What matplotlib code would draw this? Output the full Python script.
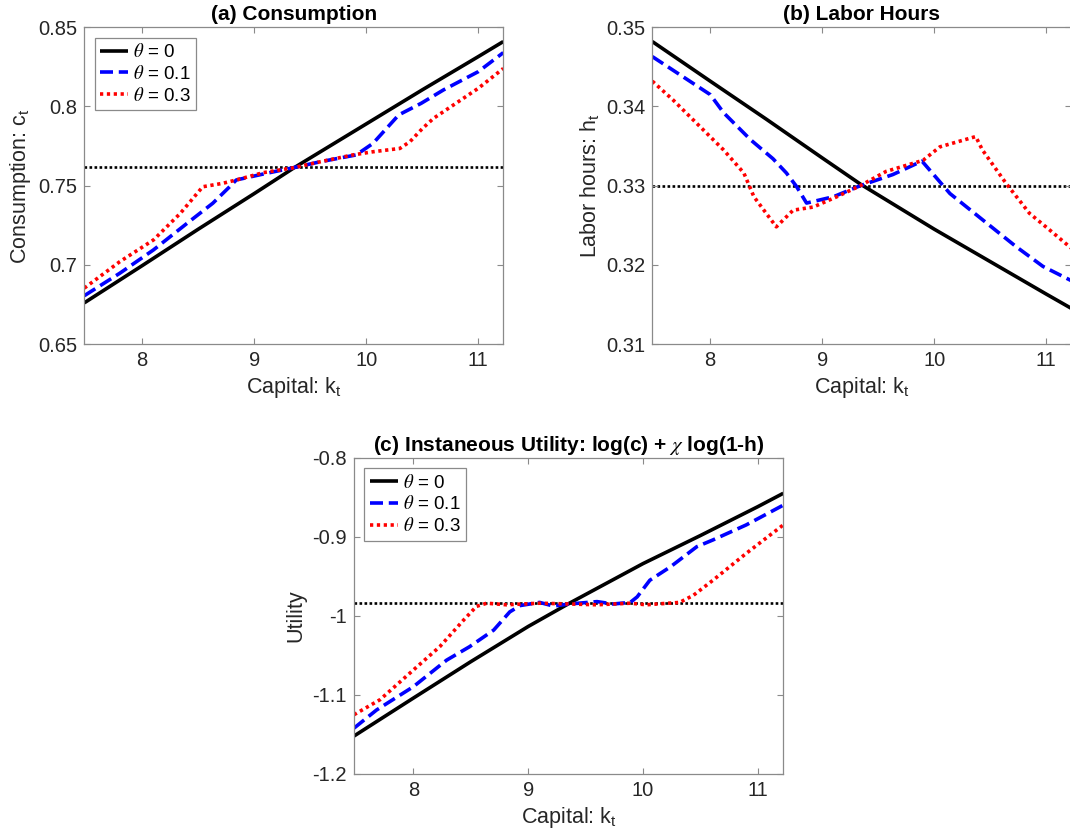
import matplotlib
matplotlib.use("Agg")
import matplotlib.pyplot as plt
from matplotlib.ticker import FixedLocator, FixedFormatter

plt.rcParams['font.family'] = ['Liberation Sans', 'DejaVu Sans']
plt.rcParams['mathtext.fontset'] = 'stix'

# ---------------- data ----------------
K_LIMITS = (7.483, 11.223)
x_ticks = [8, 9, 10, 11]
x_tick_labels = ['8', '9', '10', '11']

theta_labels = [r'$\theta$ = 0', r'$\theta$ = 0.1', r'$\theta$ = 0.3']

# (a) consumption policy
k_c_theta0 = [7.483, 8.0, 8.5, 9.0, 9.36, 10.0, 10.5, 11.0, 11.223]
c_theta0 = [0.676, 0.6995, 0.7225, 0.745, 0.7615, 0.789, 0.8105, 0.8315, 0.841]
k_c_theta01 = [7.483, 7.8, 8.1, 8.4, 8.63, 8.78, 8.84, 9.11, 9.36, 9.59, 9.91,
               10.06, 10.29, 10.49, 10.69, 11.0, 11.223]
c_theta01 = [0.6805, 0.6947, 0.7094, 0.7262, 0.7389, 0.7493, 0.7536, 0.7578, 0.7615,
             0.7651, 0.7694, 0.7767, 0.7947, 0.802, 0.8105, 0.822, 0.834]
k_c_theta03 = [7.483, 7.8, 8.1, 8.34, 8.54, 8.72, 8.84, 9.08, 9.35, 9.59, 9.88,
               10.06, 10.3, 10.39, 10.5, 10.6, 10.8, 11.0, 11.223]
c_theta03 = [0.6853, 0.702, 0.7157, 0.7325, 0.7493, 0.7515, 0.7536, 0.7582, 0.7613,
             0.7651, 0.7694, 0.7714, 0.7735, 0.7778, 0.786, 0.7925, 0.802, 0.8115, 0.824]
c_steady = 0.7615
c_ticks = [0.65, 0.70, 0.75, 0.80, 0.85]
c_tick_labels = ['0.65', '0.7', '0.75', '0.8', '0.85']

# (b) labor hours policy
k_h_theta0 = [7.483, 8.0, 8.5, 9.0, 9.34, 10.0, 10.5, 11.0, 11.223]
h_theta0 = [0.3482, 0.3432, 0.3384, 0.3335, 0.3302, 0.3245, 0.3204, 0.3163, 0.3145]
k_h_theta01 = [7.483, 8.0, 8.12, 8.36, 8.56, 8.68, 8.77, 8.86, 9.10, 9.34, 9.63,
               9.89, 10.14, 10.43, 10.73, 10.97, 11.223]
h_theta01 = [0.3463, 0.3415, 0.3392, 0.3358, 0.3334, 0.3316, 0.3299, 0.3278, 0.3286,
             0.3300, 0.3314, 0.3331, 0.3290, 0.3257, 0.3223, 0.3198, 0.3180]
k_h_theta03 = [7.483, 7.67, 7.82, 8.12, 8.30, 8.39, 8.50, 8.59, 8.74, 8.92, 9.13,
               9.34, 9.57, 9.90, 10.05, 10.37, 10.43, 10.64, 10.85, 11.03, 11.223]
h_theta03 = [0.3432, 0.3408, 0.3387, 0.3345, 0.3316, 0.3286, 0.3265, 0.3248, 0.3269,
             0.3273, 0.3286, 0.3300, 0.3318, 0.3332, 0.3349, 0.3362, 0.3345, 0.3303,
             0.3265, 0.3244, 0.3221]
h_steady = 0.330
h_ticks = [0.31, 0.32, 0.33, 0.34, 0.35]
h_tick_labels = ['0.31', '0.32', '0.33', '0.34', '0.35']

# (c) instantaneous utility
k_u_theta0 = [7.483, 8.0, 8.5, 9.0, 9.36, 10.0, 10.5, 11.0, 11.223]
u_theta0 = [-1.152, -1.104, -1.058, -1.0135, -0.984, -0.934, -0.8985, -0.862, -0.845]
k_u_theta01 = [7.483, 7.68, 8.0, 8.29, 8.49, 8.70, 8.84, 8.93, 9.10, 9.22, 9.36, 9.6,
               9.74, 9.89, 9.95, 10.06, 10.24, 10.47, 10.61, 10.9, 11.223]
u_theta01 = [-1.142, -1.119, -1.0896, -1.056, -1.039, -1.018, -0.995, -0.987, -0.983,
             -0.9876, -0.985, -0.982, -0.985, -0.983, -0.976, -0.955, -0.938, -0.9125,
             -0.904, -0.885, -0.860]
k_u_theta03 = [7.483, 7.71, 8.0, 8.23, 8.44, 8.55, 8.64, 8.81, 9.10, 9.36, 9.6, 9.89,
               10.03, 10.32, 10.44, 10.61, 10.9, 11.223]
u_theta03 = [-1.125, -1.106, -1.0685, -1.039, -1.005, -0.988, -0.984, -0.986, -0.984,
             -0.985, -0.986, -0.984, -0.986, -0.983, -0.974, -0.955, -0.921, -0.885]
u_steady = -0.984
u_ticks = [-1.2, -1.1, -1.0, -0.9, -0.8]
u_tick_labels = ['-1.2', '-1.1', '-1', '-0.9', '-0.8']

# ---------------- styling ----------------
LINE_W = 2.6
SERIES_STYLE = [
    dict(color='black', linestyle='-'),
    dict(color='#0000ff', linestyle=(0, (3.6, 1.6))),
    dict(color='#ff0000', linestyle=(0, (0.9, 1.0))),
]
SPINE_COLOR = '#8a8a8a'
TEXT_COLOR = '#262626'

W, H = 1070, 839
fig = plt.figure(figsize=(W / 100, H / 100), dpi=100)


def box(left, top, right, bottom):
    return [left / W, 1 - bottom / H, (right - left) / W, (bottom - top) / H]


def style_axes(ax, yticks, ylabels, ylim):
    ax.set_xlim(*K_LIMITS)
    ax.set_ylim(*ylim)
    ax.xaxis.set_major_locator(FixedLocator(x_ticks))
    ax.xaxis.set_major_formatter(FixedFormatter(x_tick_labels))
    ax.yaxis.set_major_locator(FixedLocator(yticks))
    ax.yaxis.set_major_formatter(FixedFormatter(ylabels))
    ax.tick_params(direction='in', length=4, width=0.8, color=SPINE_COLOR,
                   labelsize=14.5, labelcolor=TEXT_COLOR, top=True, right=True, pad=5)
    for s in ax.spines.values():
        s.set_color(SPINE_COLOR)
        s.set_linewidth(0.9)
    ax.set_xlabel(r'Capital: k$_\mathregular{t}$', fontsize=15.5, color=TEXT_COLOR,
                  labelpad=4)


def draw(ax, ks, vs, steady):
    ax.axhline(steady, color='black', linewidth=1.9, linestyle=(0, (1, 0.9)), zorder=1)
    handles = []
    for k, v, st in zip(ks, vs, SERIES_STYLE):
        h, = ax.plot(k, v, linewidth=LINE_W, solid_capstyle='butt',
                     dash_capstyle='butt', zorder=2, **st)
        handles.append(h)
    return handles


def add_legend(ax, handles):
    leg = ax.legend(handles, theta_labels, loc='upper left', fontsize=13.5,
                    frameon=True, fancybox=False, framealpha=1,
                    edgecolor=SPINE_COLOR, handlelength=1.5, handletextpad=0.25,
                    labelspacing=0.2, borderpad=0.3, borderaxespad=0.55)
    leg.get_frame().set_linewidth(0.9)


# (a)
ax_a = fig.add_axes(box(84.3, 27.3, 503.3, 344))
hs = draw(ax_a, [k_c_theta0, k_c_theta01, k_c_theta03],
          [c_theta0, c_theta01, c_theta03], c_steady)
style_axes(ax_a, c_ticks, c_tick_labels, (0.65, 0.85))
ax_a.set_ylabel(r'Consumption: c$_\mathregular{t}$', fontsize=15.5, color=TEXT_COLOR)
ax_a.set_title('(a) Consumption', fontsize=15, fontweight='bold', pad=5)
add_legend(ax_a, hs)

# (b)
ax_b = fig.add_axes(box(652.3, 27.3, 1071.3, 344))
draw(ax_b, [k_h_theta0, k_h_theta01, k_h_theta03],
     [h_theta0, h_theta01, h_theta03], h_steady)
style_axes(ax_b, h_ticks, h_tick_labels, (0.31, 0.35))
ax_b.set_ylabel(r'Labor hours: h$_\mathregular{t}$', fontsize=15.5, color=TEXT_COLOR)
ax_b.set_title('(b) Labor Hours', fontsize=15, fontweight='bold', pad=5)

# (c)
ax_c = fig.add_axes(box(354, 457.7, 783.3, 774))
hs = draw(ax_c, [k_u_theta0, k_u_theta01, k_u_theta03],
          [u_theta0, u_theta01, u_theta03], u_steady)
style_axes(ax_c, u_ticks, u_tick_labels, (-1.2, -0.8))
ax_c.set_ylabel('Utility', fontsize=15.5, color=TEXT_COLOR)
ax_c.set_title(r'(c) Instaneous Utility: log(c) + $\chi$ log(1-h)',
               fontsize=15, fontweight='bold', pad=5)
add_legend(ax_c, hs)

fig.savefig('out.png', dpi=100)
